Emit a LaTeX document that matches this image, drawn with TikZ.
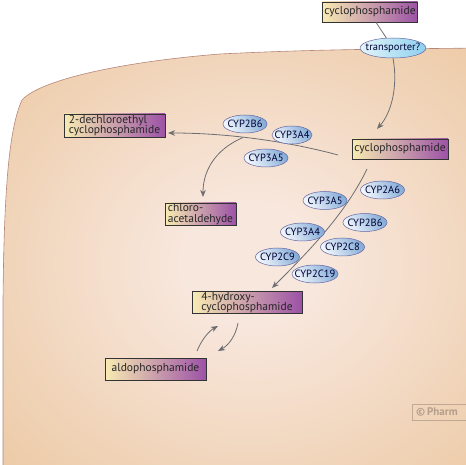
\documentclass[tikz,border=0pt]{standalone}
\usepackage{fontspec}
\setmainfont{PT Sans}
\usetikzlibrary{arrows.meta,shapes.geometric}

\definecolor{celledge}{HTML}{E6BA87}
\definecolor{cellmid}{HTML}{F8E7DD}
\definecolor{cellline}{HTML}{B5877A}
\definecolor{boxleft}{HTML}{F8EBB2}
\definecolor{boxright}{HTML}{9C52A6}
\definecolor{enzlight}{HTML}{F0F6FC}
\definecolor{enzdark}{HTML}{86ADD8}
\definecolor{trlight}{HTML}{E4F5FB}
\definecolor{trdark}{HTML}{8CCFEE}
\definecolor{arrowgrey}{HTML}{6E6E72}

\pgfdeclareradialshading{cellglow}{\pgfpoint{0bp}{0bp}}{color(0bp)=(cellmid); color(7bp)=(cellmid); color(50bp)=(celledge)}

\tikzset{
  metab/.style={draw=black!80, line width=0.7pt, left color=boxleft, right color=boxright,
    text=black!85, font=\fontsize{11.5}{10.5}\selectfont, inner xsep=2pt, inner ysep=0.5pt,
    align=left, minimum height=20pt},
  enzyme/.style={ellipse, draw=black!60!blue!60, line width=0.5pt, inner xsep=-4pt, inner ysep=-2pt,
    left color=enzlight, right color=enzdark, shading angle=120,
    text=black!80!blue, font=\fontsize{10.5}{10.5}\selectfont,
    minimum width=44pt, minimum height=18pt},
  conv/.style={draw=arrowgrey, line width=0.8pt, -{Stealth[length=7pt,width=5.5pt,inset=2pt]}},
  plain/.style={draw=arrowgrey, line width=0.8pt}
}

\begin{document}
\begin{tikzpicture}[x=1pt,y=-1pt]
  \useasboundingbox (0,0) rectangle (466,465);
  \clip (0,0) rectangle (466,465);

  % the cell
  \shade[shading=cellglow] (3,480) -- (3,300) .. controls (4,200) and (8,130) .. (22,100)
    .. controls (40,80) and (120,62) .. (220,54) .. controls (320,49) and (400,49) .. (480,48)
    -- (500,48) -- (500,480) -- cycle;
  \draw[cellline, line width=0.6pt] (3,480) -- (3,300) .. controls (4,200) and (8,130) .. (22,100)
    .. controls (40,80) and (120,62) .. (220,54) .. controls (320,49) and (400,49) .. (480,48);

  % metabolites
  \node[metab, minimum width=92pt] (cpout) at (370,12) {cyclophosphamide};
  \node[metab, minimum width=96pt] (cpin) at (400,149) {cyclophosphamide};
  \node[metab, minimum width=101pt, minimum height=23pt] (dechl) at (114.5,125.5) {2-dechloroethyl\\cyclophosphamide};
  \node[metab, minimum width=71pt, minimum height=22pt] (chlor) at (200.5,214) {chloro-\\acetaldehyde};
  \node[metab, minimum width=110pt, minimum height=21pt] (hydrox) at (247,302.5) {4-hydroxy-\\cyclophosphamide};
  \node[metab, minimum width=101pt, minimum height=22pt] (aldo) at (155.5,369) {aldophosphamide};

  % free ends
  \coordinate (inhead) at (377,129);
  \coordinate (sidestart) at (338,155);
  \coordinate (sidehead) at (168,133);
  \coordinate (fork) at (243,137.5);
  \coordinate (mainstart) at (367,169);
  \coordinate (mainhead) at (272,288);

  % uptake
  \node[enzyme, left color=trlight, right color=trdark, minimum width=58pt, minimum height=20pt] (trans) at (393,48) {transporter?};
  \draw[plain] (cpout.south) ++(6,0) -- (trans);
  \draw[conv] (trans.south) .. controls (398,85) and (392,112) .. (inhead);

  % dechloroethylation
  \draw[conv] (sidestart) .. controls (290,142) and (230,133) .. (sidehead);
  \draw[conv] (fork) .. controls (214,150) and (203,172) .. (203,197);

  % hydroxylation
  \draw[conv] (mainstart) .. controls (345,215) and (305,255) .. (mainhead);

  % tautomerism
  \draw[conv] (197,351) .. controls (202,339) and (209,331) .. (218,326);
  \draw[conv] (238,323) .. controls (236,335) and (229,345) .. (218,351);

  % enzymes, side route
  \node[enzyme] (sb6) at (245,124) {CYP2B6};
  \node[enzyme, minimum width=40pt] (sa4) at (292,135) {CYP3A4};
  \node[enzyme] (sa5) at (266,158) {CYP3A5};

  % enzymes, main route
  \node[enzyme] (ma5) at (325,200.5) {CYP3A5};
  \node[enzyme] (ma6) at (382.5,190) {CYP2A6};
  \node[enzyme] (mb6) at (365,222.5) {CYP2B6};
  \node[enzyme] (ma4) at (302.5,232) {CYP3A4};
  \node[enzyme] (mc8) at (342.5,247) {CYP2C8};
  \node[enzyme] (mc9) at (277.5,257) {CYP2C9};
  \node[enzyme] (mc19) at (315,274) {CYP2C19};

  % watermark
  \draw[black, opacity=0.2, line width=0.8pt] (470,404) -| (412,420) -- (470,420);
  \node[anchor=west, text=black, text opacity=0.25, font=\fontsize{11}{11}\selectfont\bfseries, inner sep=0pt] (mark) at (416,412) {©\,Pharm};
\end{tikzpicture}
\end{document}
